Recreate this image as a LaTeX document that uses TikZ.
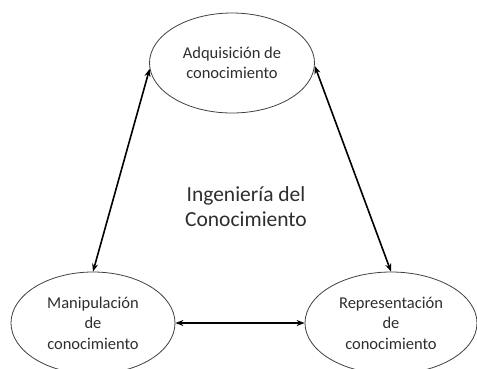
\documentclass[tikz,border=0pt]{standalone}
\usepackage{fontspec}
\setmainfont{Carlito}
\usetikzlibrary{shapes.geometric,arrows.meta}
\begin{document}
\begin{tikzpicture}[x=1pt,y=-1pt,
  ell/.style={draw=black!75,line width=0.8pt,ellipse,inner sep=0pt,align=center,
    font=\fontsize{16.5}{20.5}\selectfont,text=black!82},
  conn/.style={line width=1.6pt,{Stealth[length=8pt,width=6pt]}-{Stealth[length=8pt,width=6pt]}}]
\useasboundingbox (0,0) rectangle (477,368);
\node[ell,minimum width=165pt,minimum height=100pt] (adq) at (232,63) {Adquisición de\\conocimiento};
\node[ell,minimum width=164pt,minimum height=102pt] (man) at (93,323) {Manipulación\\de\\conocimiento};
\node[ell,minimum width=172pt,minimum height=102pt] (rep) at (391,323) {Representación\\de\\conocimiento};
\node[align=center,font=\fontsize{21.5}{25}\selectfont,text=black!82] (ing) at (246,207) {Ingeniería del\\Conocimiento};
\draw[conn] (adq.184) -- (man.north);
\draw[conn] (adq.358) -- (rep.north);
\draw[conn] (man.east) -- (rep.west);
\end{tikzpicture}
\end{document}
